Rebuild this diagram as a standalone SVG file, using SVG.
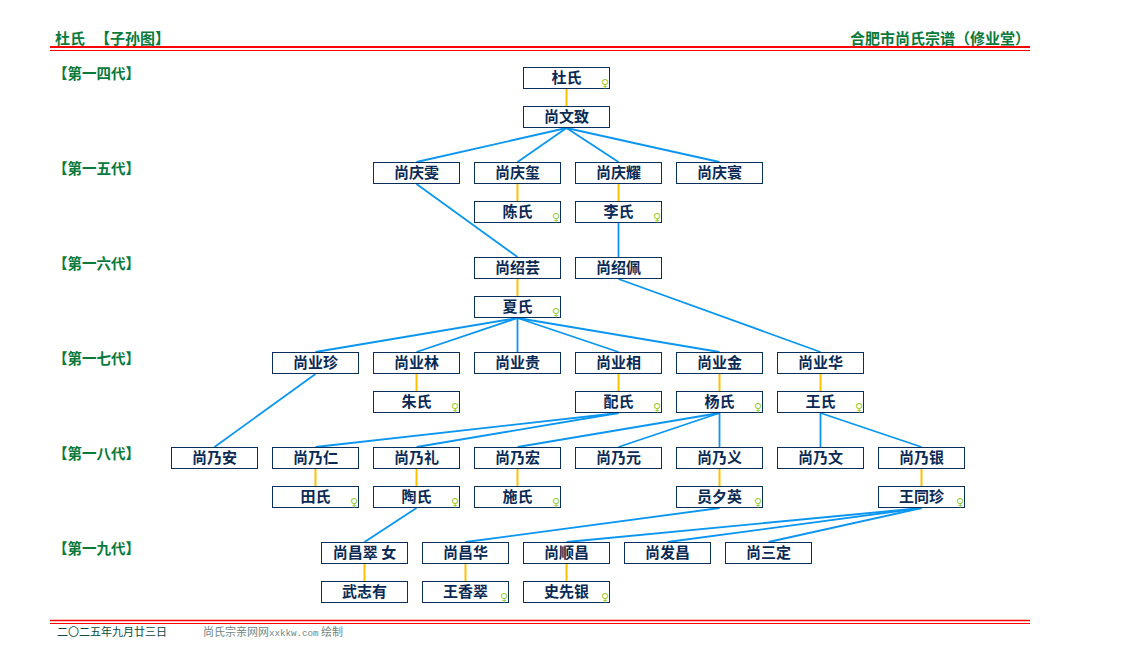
<svg xmlns="http://www.w3.org/2000/svg" width="1128" height="670" viewBox="0 0 1128 670">
<style>
.bg{fill:#ffffff}
.box{fill:#ffffff;stroke:#0b2f5c;stroke-width:1}
.nt{font-family:"Noto Sans CJK SC","Noto Sans CJK JP",sans-serif;font-size:15px;font-weight:bold;fill:#0a2a55;text-anchor:middle}
.fm{font-family:"DejaVu Sans",sans-serif;font-size:11px;fill:#9acd32;text-anchor:middle}
.gen{font-family:"Noto Sans CJK SC",sans-serif;font-size:14.5px;font-weight:bold;fill:#0a7a3c}
.hd{font-family:"Noto Sans CJK SC",sans-serif;font-size:15px;font-weight:bold;fill:#0a7a3c}
.ft{font-family:"Noto Sans CJK SC",sans-serif;font-size:11px}
.blue{stroke:#0a96f0;stroke-width:1.8;fill:none}
.yel{stroke:#ffc000;stroke-width:2;fill:none}
.red{stroke:#ff0000}
</style>
<rect class="bg" x="0" y="0" width="1128" height="670"/>
<g id="header">
<text class="hd" x="55" y="44">杜氏</text>
<text class="hd" x="95" y="44">【子孙图】</text>
<text class="hd" x="850" y="44">合肥市尚氏宗谱（修业堂）</text>
<line class="red" x1="50" y1="47" x2="1030" y2="47" stroke-width="2"/>
<line class="red" x1="50" y1="50.5" x2="1030" y2="50.5" stroke-width="1"/>
</g>
<g id="generations">
<text class="gen" x="53" y="79">【第一四代】</text>
<text class="gen" x="53" y="174">【第一五代】</text>
<text class="gen" x="53" y="269">【第一六代】</text>
<text class="gen" x="53" y="364">【第一七代】</text>
<text class="gen" x="53" y="459">【第一八代】</text>
<text class="gen" x="53" y="554">【第一九代】</text>
</g>
<g id="connectors">
<g class="yel">
<line x1="566.5" y1="89" x2="566.5" y2="106"/>
<line x1="517.5" y1="184" x2="517.5" y2="201"/>
<line x1="618.5" y1="184" x2="618.5" y2="201"/>
<line x1="517.5" y1="279" x2="517.5" y2="296"/>
<line x1="416.5" y1="374" x2="416.5" y2="391"/>
<line x1="618.5" y1="374" x2="618.5" y2="391"/>
<line x1="719.5" y1="374" x2="719.5" y2="391"/>
<line x1="820.5" y1="374" x2="820.5" y2="391"/>
<line x1="315.5" y1="469" x2="315.5" y2="486"/>
<line x1="416.5" y1="469" x2="416.5" y2="486"/>
<line x1="517.5" y1="469" x2="517.5" y2="486"/>
<line x1="719.5" y1="469" x2="719.5" y2="486"/>
<line x1="921.5" y1="469" x2="921.5" y2="486"/>
<line x1="364.5" y1="564" x2="364.5" y2="581"/>
<line x1="465.5" y1="564" x2="465.5" y2="581"/>
<line x1="566.5" y1="564" x2="566.5" y2="581"/>
</g>
<g class="blue">
<line x1="566.5" y1="128" x2="416.5" y2="162"/>
<line x1="566.5" y1="128" x2="517.5" y2="162"/>
<line x1="566.5" y1="128" x2="618.5" y2="162"/>
<line x1="566.5" y1="128" x2="719.5" y2="162"/>
<line x1="416.5" y1="184" x2="517.5" y2="257"/>
<line x1="618.5" y1="223" x2="618.5" y2="257"/>
<line x1="517.5" y1="318" x2="315.5" y2="352"/>
<line x1="517.5" y1="318" x2="416.5" y2="352"/>
<line x1="517.5" y1="318" x2="517.5" y2="352"/>
<line x1="517.5" y1="318" x2="618.5" y2="352"/>
<line x1="517.5" y1="318" x2="719.5" y2="352"/>
<line x1="618.5" y1="279" x2="820.5" y2="352"/>
<line x1="315.5" y1="374" x2="214.5" y2="447"/>
<line x1="618.5" y1="413" x2="315.5" y2="447"/>
<line x1="618.5" y1="413" x2="416.5" y2="447"/>
<line x1="719.5" y1="413" x2="517.5" y2="447"/>
<line x1="719.5" y1="413" x2="618.5" y2="447"/>
<line x1="719.5" y1="413" x2="719.5" y2="447"/>
<line x1="820.5" y1="413" x2="820.5" y2="447"/>
<line x1="820.5" y1="413" x2="921.5" y2="447"/>
<line x1="416.5" y1="508" x2="364.5" y2="542"/>
<line x1="719.5" y1="508" x2="465.5" y2="542"/>
<line x1="921.5" y1="508" x2="566.5" y2="542"/>
<line x1="921.5" y1="508" x2="667.5" y2="542"/>
<line x1="921.5" y1="508" x2="768.5" y2="542"/>
</g>
</g>
<g id="n-dushi"><rect class="box" x="523.5" y="67.5" width="86" height="21"/><text class="nt" x="566.5" y="83">杜氏</text><text class="fm" x="605" y="87">♀</text></g>
<g id="n-shangwenzhi"><rect class="box" x="523.5" y="106.5" width="86" height="21"/><text class="nt" x="566.5" y="122">尚文致</text></g>
<g id="n-shangqingwen"><rect class="box" x="373.5" y="162.5" width="86" height="21"/><text class="nt" x="416.5" y="178">尚庆雯</text></g>
<g id="n-shangqingxi"><rect class="box" x="474.5" y="162.5" width="86" height="21"/><text class="nt" x="517.5" y="178">尚庆玺</text></g>
<g id="n-shangqingyao"><rect class="box" x="575.5" y="162.5" width="86" height="21"/><text class="nt" x="618.5" y="178">尚庆耀</text></g>
<g id="n-shangqinghuan"><rect class="box" x="676.5" y="162.5" width="86" height="21"/><text class="nt" x="719.5" y="178">尚庆寰</text></g>
<g id="n-chenshi"><rect class="box" x="474.5" y="201.5" width="86" height="21"/><text class="nt" x="517.5" y="217">陈氏</text><text class="fm" x="556" y="221">♀</text></g>
<g id="n-lishi"><rect class="box" x="575.5" y="201.5" width="86" height="21"/><text class="nt" x="618.5" y="217">李氏</text><text class="fm" x="657" y="221">♀</text></g>
<g id="n-shangshaoyun"><rect class="box" x="474.5" y="257.5" width="86" height="21"/><text class="nt" x="517.5" y="273">尚绍芸</text></g>
<g id="n-shangshaopei"><rect class="box" x="575.5" y="257.5" width="86" height="21"/><text class="nt" x="618.5" y="273">尚绍佩</text></g>
<g id="n-xiashi"><rect class="box" x="474.5" y="296.5" width="86" height="21"/><text class="nt" x="517.5" y="312">夏氏</text><text class="fm" x="556" y="316">♀</text></g>
<g id="n-shangyezhen"><rect class="box" x="272.5" y="352.5" width="86" height="21"/><text class="nt" x="315.5" y="368">尚业珍</text></g>
<g id="n-shangyelin"><rect class="box" x="373.5" y="352.5" width="86" height="21"/><text class="nt" x="416.5" y="368">尚业林</text></g>
<g id="n-shangyegui"><rect class="box" x="474.5" y="352.5" width="86" height="21"/><text class="nt" x="517.5" y="368">尚业贵</text></g>
<g id="n-shangyexiang"><rect class="box" x="575.5" y="352.5" width="86" height="21"/><text class="nt" x="618.5" y="368">尚业相</text></g>
<g id="n-shangyejin"><rect class="box" x="676.5" y="352.5" width="86" height="21"/><text class="nt" x="719.5" y="368">尚业金</text></g>
<g id="n-shangyehua"><rect class="box" x="777.5" y="352.5" width="86" height="21"/><text class="nt" x="820.5" y="368">尚业华</text></g>
<g id="n-zhushi"><rect class="box" x="373.5" y="391.5" width="86" height="21"/><text class="nt" x="416.5" y="407">朱氏</text><text class="fm" x="455" y="411">♀</text></g>
<g id="n-peishi"><rect class="box" x="575.5" y="391.5" width="86" height="21"/><text class="nt" x="618.5" y="407">配氏</text><text class="fm" x="657" y="411">♀</text></g>
<g id="n-yangshi"><rect class="box" x="676.5" y="391.5" width="86" height="21"/><text class="nt" x="719.5" y="407">杨氏</text><text class="fm" x="758" y="411">♀</text></g>
<g id="n-wangshi"><rect class="box" x="777.5" y="391.5" width="86" height="21"/><text class="nt" x="820.5" y="407">王氏</text><text class="fm" x="859" y="411">♀</text></g>
<g id="n-shangnaian"><rect class="box" x="171.5" y="447.5" width="86" height="21"/><text class="nt" x="214.5" y="463">尚乃安</text></g>
<g id="n-shangnairen"><rect class="box" x="272.5" y="447.5" width="86" height="21"/><text class="nt" x="315.5" y="463">尚乃仁</text></g>
<g id="n-shangnaili"><rect class="box" x="373.5" y="447.5" width="86" height="21"/><text class="nt" x="416.5" y="463">尚乃礼</text></g>
<g id="n-shangnaihong"><rect class="box" x="474.5" y="447.5" width="86" height="21"/><text class="nt" x="517.5" y="463">尚乃宏</text></g>
<g id="n-shangnaiyuan"><rect class="box" x="575.5" y="447.5" width="86" height="21"/><text class="nt" x="618.5" y="463">尚乃元</text></g>
<g id="n-shangnaiyi"><rect class="box" x="676.5" y="447.5" width="86" height="21"/><text class="nt" x="719.5" y="463">尚乃义</text></g>
<g id="n-shangnaiwen"><rect class="box" x="777.5" y="447.5" width="86" height="21"/><text class="nt" x="820.5" y="463">尚乃文</text></g>
<g id="n-shangnaiyin"><rect class="box" x="878.5" y="447.5" width="86" height="21"/><text class="nt" x="921.5" y="463">尚乃银</text></g>
<g id="n-tianshi"><rect class="box" x="272.5" y="486.5" width="86" height="21"/><text class="nt" x="315.5" y="502">田氏</text><text class="fm" x="354" y="506">♀</text></g>
<g id="n-taoshi"><rect class="box" x="373.5" y="486.5" width="86" height="21"/><text class="nt" x="416.5" y="502">陶氏</text><text class="fm" x="455" y="506">♀</text></g>
<g id="n-shishi"><rect class="box" x="474.5" y="486.5" width="86" height="21"/><text class="nt" x="517.5" y="502">施氏</text><text class="fm" x="556" y="506">♀</text></g>
<g id="n-yuanxiying"><rect class="box" x="676.5" y="486.5" width="86" height="21"/><text class="nt" x="719.5" y="502">员夕英</text><text class="fm" x="758" y="506">♀</text></g>
<g id="n-wangtongzhen"><rect class="box" x="878.5" y="486.5" width="86" height="21"/><text class="nt" x="921.5" y="502">王同珍</text><text class="fm" x="960" y="506">♀</text></g>
<g id="n-shangchangcui"><rect class="box" x="321.5" y="542.5" width="86" height="21"/><text class="nt" x="364.5" y="558" xml:space="preserve">尚昌翠 女</text></g>
<g id="n-shangchanghua"><rect class="box" x="422.5" y="542.5" width="86" height="21"/><text class="nt" x="465.5" y="558">尚昌华</text></g>
<g id="n-shangshunchang"><rect class="box" x="523.5" y="542.5" width="86" height="21"/><text class="nt" x="566.5" y="558">尚顺昌</text></g>
<g id="n-shangfachang"><rect class="box" x="624.5" y="542.5" width="86" height="21"/><text class="nt" x="667.5" y="558">尚发昌</text></g>
<g id="n-shangsanding"><rect class="box" x="725.5" y="542.5" width="86" height="21"/><text class="nt" x="768.5" y="558">尚三定</text></g>
<g id="n-wuzhiyou"><rect class="box" x="321.5" y="581.5" width="86" height="21"/><text class="nt" x="364.5" y="597">武志有</text></g>
<g id="n-wangxiangcui"><rect class="box" x="422.5" y="581.5" width="86" height="21"/><text class="nt" x="465.5" y="597">王香翠</text><text class="fm" x="504" y="601">♀</text></g>
<g id="n-shixianyin"><rect class="box" x="523.5" y="581.5" width="86" height="21"/><text class="nt" x="566.5" y="597">史先银</text><text class="fm" x="605" y="601">♀</text></g>
<g id="footer">
<line class="red" x1="50" y1="620.5" x2="1030" y2="620.5" stroke-width="1.5"/>
<line class="red" x1="50" y1="623.5" x2="1030" y2="623.5" stroke-width="1"/>
<text class="ft" x="57" y="636" fill="#0d4a3a">二〇二五年九月廿三日</text>
<text class="ft" x="203" y="636" fill="#6f8683">尚氏宗亲网网<tspan font-family="Liberation Mono,monospace" font-size="9.2px">xxkkw.com</tspan> 绘制</text>
</g>
</svg>
